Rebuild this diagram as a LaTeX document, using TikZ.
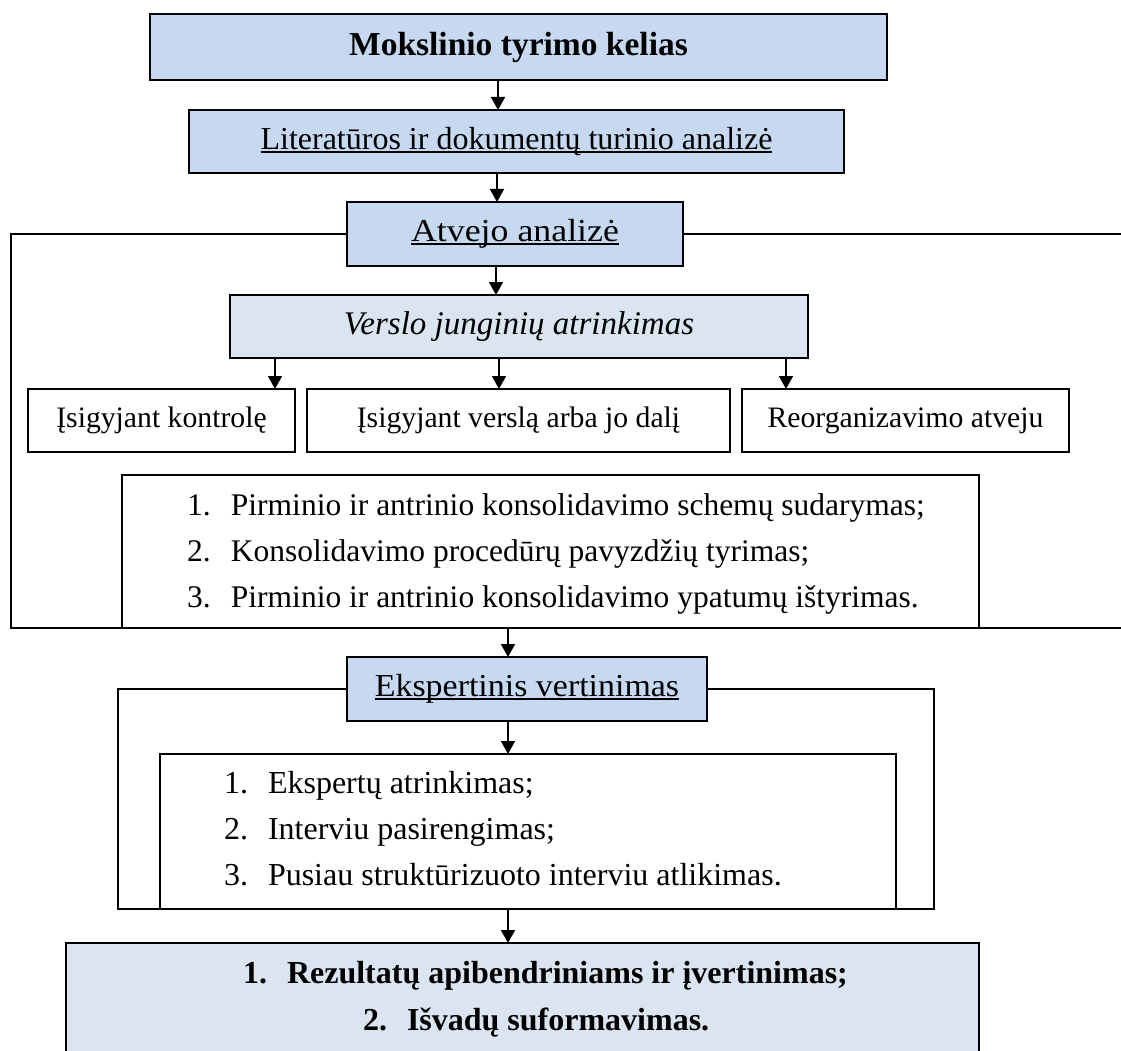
\documentclass[tikz,border=0pt]{standalone}
\usepackage{fontspec}
\setmainfont{Liberation Serif}
\usetikzlibrary{arrows.meta}
\definecolor{boxblue}{RGB}{198,217,240}
\definecolor{paleblue}{RGB}{219,229,241}
% underline at a fixed depth below the baseline
\newcommand\ultext[1]{\setbox0\hbox{#1}\rlap{\rule[-0.1em]{\wd0}{0.055em}}\box0}
\newcommand\itemno[1]{\makebox[44pt][l]{#1}}
\newcommand\fs[1]{\fontsize{#1}{#1}\selectfont}
\begin{document}
\begin{tikzpicture}[x=1pt, y=-1pt, line width=2pt,
  every node/.append style={font=\fs{32}, outer sep=0pt},
  stage/.style={draw, inner sep=0pt, fill=boxblue},
  subject/.style={draw, inner sep=0pt, fill=paleblue},
  plain/.style={draw, inner sep=0pt, fill=white},
  line/.style={inner sep=0pt, anchor=base west},
  arr/.style={-{Triangle[length=13pt,width=14pt]}, line width=1.6pt},
  frame/.style={line width=2pt}]
\useasboundingbox (0,0) rectangle (1121,1051);

% main stages
\node[stage, minimum width=737pt, minimum height=66pt, font=\fs{33.5}] (title) at (518.5,47) {\textbf{Mokslinio tyrimo kelias}};
\node[stage, minimum width=655pt, minimum height=63pt] (lit) at (516.5,141.5) {\ultext{Literatūros ir dokumentų turinio analizė}};
\node[stage, minimum width=336pt, minimum height=64pt] (case) at (515,234) {\addfontfeature{FakeStretch=1.12}\ultext{Atvejo analizė}};
\node[subject, minimum width=578pt, minimum height=63pt, font=\fs{33}] (sel) at (519,326.5) {\textit{Verslo junginių atrinkimas}};

% three kinds of business combination
\node[plain, minimum width=267pt, minimum height=63pt, font=\fs{29.7}] (k1) at (161.5,420.5) {Įsigyjant kontrolę};
\node[plain, minimum width=423pt, minimum height=63pt, font=\fs{29.7}] (k2) at (518.5,420.5) {Įsigyjant verslą arba jo dalį};
\node[plain, minimum width=327pt, minimum height=63pt, font=\fs{29.7}] (k3) at (905.5,420.5) {Reorganizavimo atveju};

% case-study tasks
\node[plain, minimum width=857pt, minimum height=153pt] (tasks) at (550.5,551.5) {};
\begin{scope}[every node/.append style={font=\fs{31.5}}]
\node[line] (t1) at (187,515) {\itemno{1.}Pirminio ir antrinio konsolidavimo schemų sudarymas;};
\node[line] (t2) at (187,561) {\itemno{2.}Konsolidavimo procedūrų pavyzdžių tyrimas;};
\node[line] (t3) at (187,607) {\itemno{3.}Pirminio ir antrinio konsolidavimo ypatumų ištyrimas.};
\end{scope}

% expert evaluation
\node[stage, minimum width=360pt, minimum height=64pt] (exp) at (527,689) {\addfontfeature{FakeStretch=1.06}\ultext{Ekspertinis vertinimas}};
\node[plain, minimum width=736pt, minimum height=155pt] (steps) at (528,831.5) {};
\node[line] (s1) at (224,793) {\itemno{1.}Ekspertų atrinkimas;};
\node[line] (s2) at (224,839) {\itemno{2.}Interviu pasirengimas;};
\node[line] (s3) at (224,885) {\itemno{3.}Pusiau struktūrizuoto interviu atlikimas.};

% results
\node[subject, minimum width=913pt, minimum height=117pt] (res) at (522.5,1001.5) {};
\node[line] (r1) at (243,983) {\textbf{\itemno{1.}Rezultatų apibendriniams ir įvertinimas;}};
\node[line] (r2) at (363,1030) {\textbf{\itemno{2.}Išvadų suformavimas.}};

% arrow columns
\coordinate (c1) at (498,0);
\coordinate (c2) at (497,0);
\coordinate (c3) at (496,0);
\coordinate (cA) at (275,0);
\coordinate (cB) at (499,0);
\coordinate (cC) at (786,0);
\coordinate (cD) at (508,0);

\draw[arr] (title.south -| c1) -- (lit.north -| c1);
\draw[arr] (lit.south -| c2) -- (case.north -| c2);
\draw[arr] (case.south -| c3) -- (sel.north -| c3);
\draw[arr] (sel.south -| cA) -- (k1.north -| cA);
\draw[arr] (sel.south -| cB) -- (k2.north -| cB);
\draw[arr] (sel.south -| cC) -- (k3.north -| cC);
\draw[arr] (tasks.south -| cD) -- (exp.north -| cD);
\draw[arr] (exp.south -| cD) -- (steps.north -| cD);
\draw[arr] (steps.south -| cD) -- (res.north -| cD);

% brackets around the case study
\coordinate (fl) at (11,628);
\coordinate (frA) at (1130,234);
\coordinate (frB) at (1130,628);
\draw[frame] (case.west) -| (fl) -- (tasks.south west);
\draw[frame] (case.east) -- (frA);
\draw[frame] (tasks.south east) -- (frB);

% brackets around the expert evaluation
\coordinate (el) at (118,909);
\coordinate (er) at (934,909);
\draw[frame] (exp.west) -| (el) -- (steps.south west);
\draw[frame] (exp.east) -| (er) -- (steps.south east);
\end{tikzpicture}
\end{document}
